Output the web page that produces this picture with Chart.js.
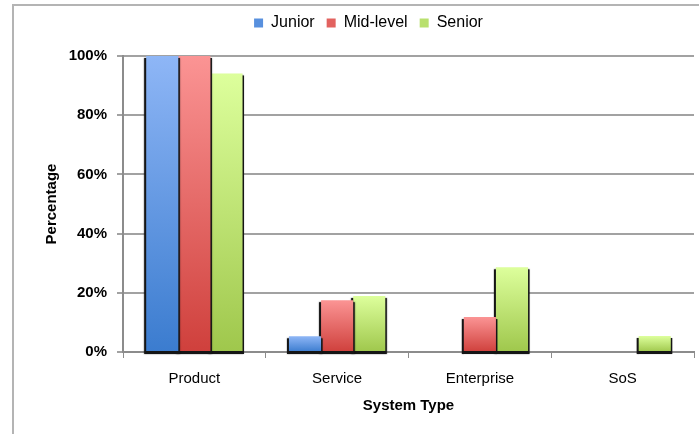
<!DOCTYPE html>
<html>
<head>
<meta charset="utf-8">
<script src="https://cdn.jsdelivr.net/npm/chart.js@4/dist/chart.umd.min.js"></script>
<style>
  html, body { margin: 0; padding: 0; background: #fff; }
  #wrap { position: relative; width: 699px; height: 434px; overflow: hidden; }
  #frame { position: absolute; left: 12px; top: 4px; right: -4px; bottom: -4px;
           border-left: 2px solid #b4b4b4; border-top: 2px solid #b4b4b4; }
  #c { position: absolute; left: 0; top: 0; }
</style>
</head>
<body>
<div id="wrap">
  <div id="frame"></div>
  <canvas id="c" width="699" height="434"></canvas>
</div>
<script>
// Share of respondents per system type, by experience level (percent)
const systemTypes = ['Product', 'Service', 'Enterprise', 'SoS'];
const juniorPct   = [100, 5.3, 0, 0];
const midLevelPct = [100, 17.5, 11.8, 0];
const seniorPct   = [94.1, 18.9, 28.6, 5.4];
const yTicks      = [0, 20, 40, 60, 80, 100];

// Legend swatch colours per series
const swatches = ['#5890de', '#e2625f', '#b9e06e'];

const FONT = "'Liberation Sans Narrow', 'Liberation Sans', Arial, sans-serif";

// Vertical gradient per bar: light at the top, deeper at the base
function barFill(top, bottom, flat) {
  return (ctx) => {
    const chart = ctx.chart;
    const y = chart.scales && chart.scales.y;
    if (ctx.type !== 'data' || !y || ctx.raw == null) return flat;
    const yTop = y.getPixelForValue(ctx.raw);
    const yBase = y.getPixelForValue(0);
    if (!isFinite(yTop) || !isFinite(yBase) || yBase - yTop < 1) return flat;
    const g = chart.ctx.createLinearGradient(0, yTop, 0, yBase);
    g.addColorStop(0, top);
    g.addColorStop(1, bottom);
    return g;
  };
}

// Dark shadow behind each bar (left, right and below), drawn per series
const barShadow = {
  id: 'barShadow',
  beforeDatasetDraw(chart, args) {
    const c = chart.ctx;
    const meta = args.meta;
    c.save();
    c.fillStyle = '#151515';
    c.shadowColor = 'rgba(0,0,0,0.5)';
    c.shadowBlur = 1.5;
    meta.data.forEach(bar => {
      const p = bar.getProps(['x', 'y', 'base', 'width'], true);
      if (Math.abs(p.base - p.y) < 1) return;
      const left = p.x - p.width / 2 - 2;
      const right = p.x + p.width / 2 + 1.5;
      c.fillRect(left, p.y + 2, right - left, p.base - p.y + 1);
    });
    c.restore();
  }
};

// Taller legend block so the plot starts lower on the page
const legendSpace = {
  id: 'legendSpace',
  afterInit(chart) {
    const lg = chart.legend;
    if (!lg || lg._spaced) return;
    const fit = lg.fit;
    lg.fit = function () { fit.call(this); this.height = 53; };
    lg._spaced = true;
  }
};

new Chart(document.getElementById('c'), {
  type: 'bar',
  data: {
    labels: systemTypes,
    datasets: [
      { label: 'Junior', data: juniorPct,
        backgroundColor: barFill('#8eb6f6', '#3b7ccf', '#4f8ee0') },
      { label: 'Mid-level', data: midLevelPct,
        backgroundColor: barFill('#fb9494', '#cf403c', '#e25a57') },
      { label: 'Senior', data: seniorPct,
        backgroundColor: barFill('#ddff9c', '#9fc74c', '#b5e070') }
    ]
  },
  options: {
    responsive: false,
    animation: false,
    devicePixelRatio: 1,
    datasets: { bar: { categoryPercentage: 0.675, barPercentage: 1, borderWidth: 0, clip: false } },
    layout: { padding: { left: 43, right: 5, top: 3, bottom: 19 } },
    plugins: {
      tooltip: { enabled: false },
      legend: {
        position: 'top',
        align: 'center',
        labels: {
          font: { family: FONT, size: 16 },
          color: '#000',
          boxWidth: 9,
          boxHeight: 9,
          padding: 12,
          generateLabels(chart) {
            return chart.data.datasets.map((ds, i) => ({
              text: ds.label,
              fillStyle: swatches[i],
              strokeStyle: swatches[i],
              lineWidth: 0,
              hidden: !chart.isDatasetVisible(i),
              datasetIndex: i
            }));
          }
        }
      }
    },
    scales: {
      x: {
        z: 1,
        grid: { display: true, drawOnChartArea: false, drawTicks: true, tickLength: 6,
                color: '#8c8c8c', offset: true },
        border: { display: true, color: '#8c8c8c', width: 2 },
        ticks: { font: { family: FONT, size: 15 }, color: '#000', padding: 12 },
        title: { display: true, text: 'System Type', color: '#000',
                 font: { family: FONT, size: 15, weight: 'bold' }, padding: { top: 2, bottom: 0 } },
        afterFit(s) { s.height = 63; }
      },
      y: {
        min: 0,
        max: 100,
        afterBuildTicks(s) { s.ticks = yTicks.map(v => ({ value: v })); },
        grid: { color: '#a2a2a2', lineWidth: 2, tickLength: 6, drawTicks: true },
        border: { display: true, color: '#8c8c8c', width: 2 },
        ticks: { font: { family: FONT, size: 15, weight: 'bold' }, color: '#000', padding: 10,
                 callback: v => v + '%' },
        title: { display: true, text: 'Percentage', color: '#000',
                 font: { family: FONT, size: 15, weight: 'bold' }, padding: { top: 0, bottom: 6 } },
        afterFit(s) { s.width = 80; }
      }
    }
  },
  plugins: [barShadow, legendSpace]
});
</script>
</body>
</html>
